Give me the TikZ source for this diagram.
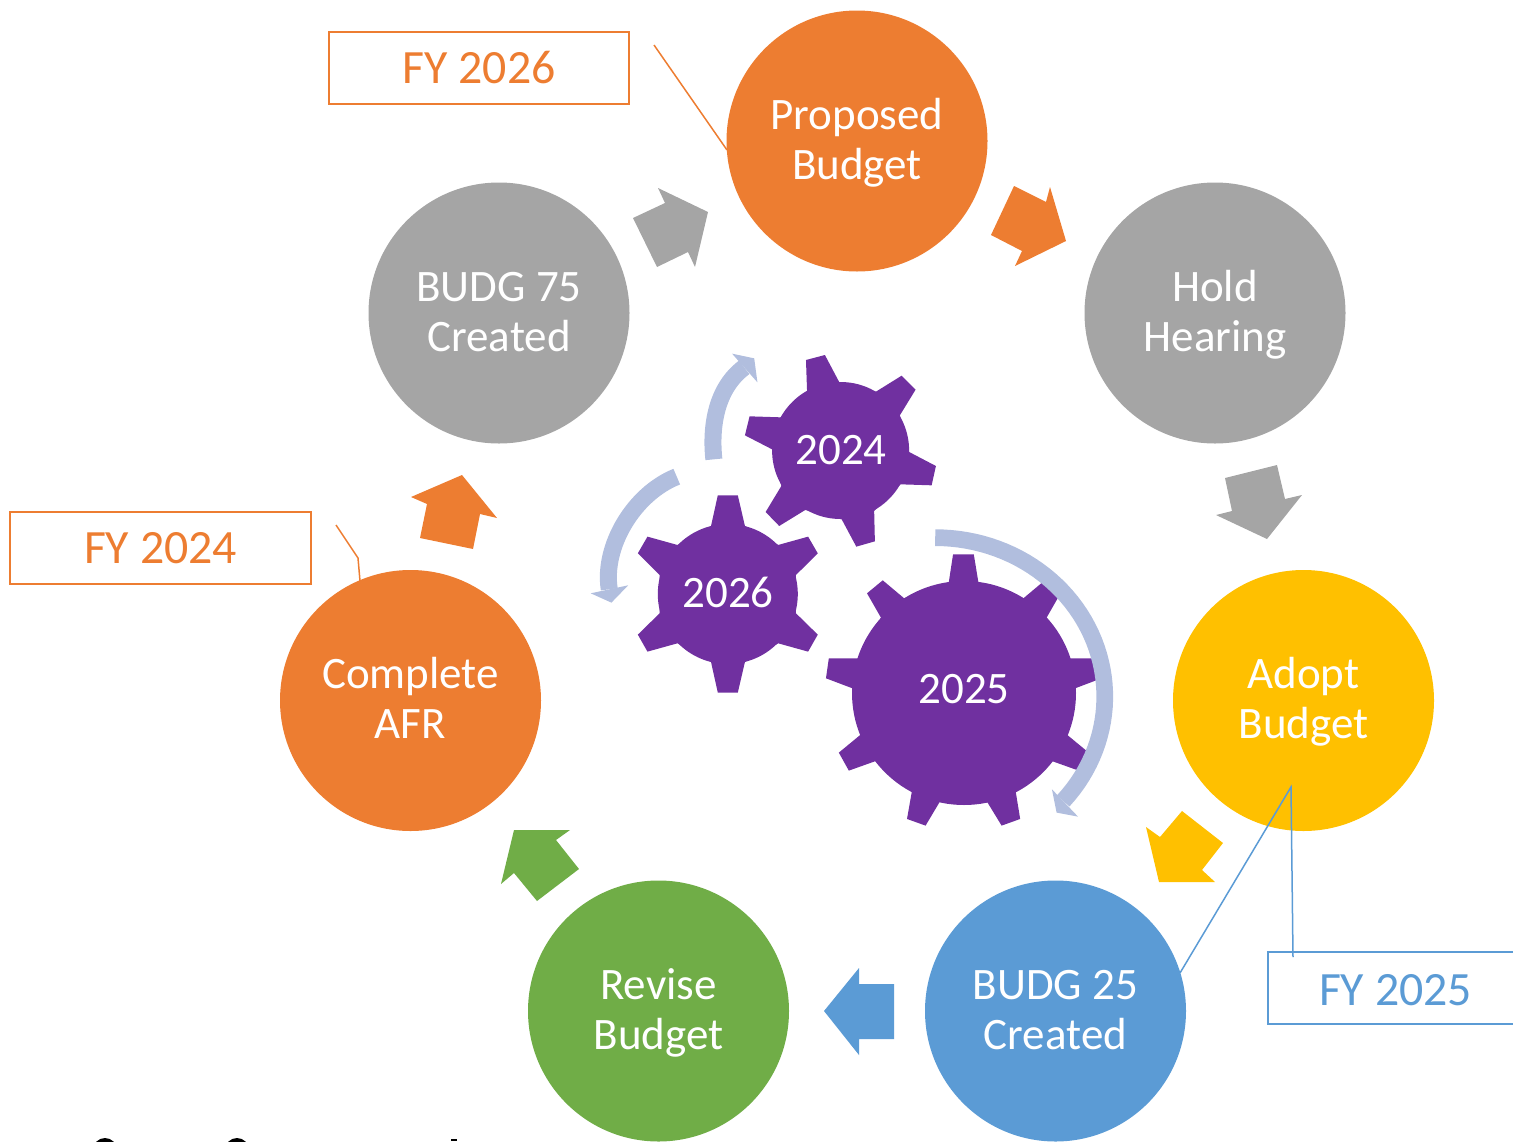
\documentclass[tikz,border=0pt]{standalone}
\usepackage{fontspec}
\setmainfont{Carlito}
\definecolor{cOrange}{HTML}{ED7D31}
\definecolor{cGray}{HTML}{A5A5A5}
\definecolor{cYellow}{HTML}{FFC000}
\definecolor{cBlue}{HTML}{5B9BD5}
\definecolor{cGreen}{HTML}{70AD47}
\definecolor{cPurple}{HTML}{7030A0}
\definecolor{cArc}{HTML}{B1BEDE}
\newcommand\firstline{\rule{0pt}{41.6pt}}
\newcommand\secondline{\rule[-14.85pt]{0pt}{34.65pt}}
\tikzset{
  stage/.style={circle,minimum size=261pt,inner sep=0pt,text=white,align=center,
    font=\fontsize{45}{50}\selectfont},
  gearlabel/.style={text=white,inner sep=0pt,font=\fontsize{45}{49}\selectfont},
  fybox/.style={draw=#1,line width=1.6pt,fill=white,text=#1,minimum height=72pt,inner sep=0pt,
    font=\fontsize{47.8}{50}\selectfont},
  callout/.style={draw=#1,line width=1.5pt},
  zoomed/.style={shift={(580,340)},xscale=.357,yscale=.3333},
}
\begin{document}
\begin{tikzpicture}[x=1pt,y=-1pt]
\useasboundingbox (0,0) rectangle (1513,1141);
\clip (0,0) rectangle (1513,1141);

% tops of the cut-off text at the lower edge
\fill[black] (105,1150) circle (12);
\fill[black] (237,1150) circle (12);
\fill[black] (451,1139) rectangle (457,1141);

% block arrows
\fill[cOrange] (1014,186)--(1046,202)--(1050,187)--(1066,241)--(1015,266)--(1022,251)--(991,235)--cycle;
\fill[cGray] (633,218)--(665,203)--(658,188)--(708,212)--(695,267)--(688,252)--(657,267)--cycle;
\fill[cGray] (1225,478)--(1277,465)--(1285,499)--(1302,495)--(1267,539)--(1216,515)--(1232,511)--cycle;
\fill[cYellow] (1182,811)--(1223,843)--(1202,870)--(1215,882)--(1159,882)--(1146,827)--(1160,837)--cycle;
\fill[cBlue] (894,984)--(859,984)--(859,968)--(824,1011)--(859,1055)--(859,1039)--(894,1039)--cycle;
\fill[cGreen] (556,840)--(579,869)--(537,901)--(514,873)--(501,884)--(514,830)--(570,830)--cycle;
\fill[cOrange] (420,538)--(427,504)--(411,497)--(462,475)--(497,518)--(480,514)--(473,549)--cycle;

% stages
\node[stage,fill=cOrange] (proposed) at (857,141) {\firstline Proposed\\\secondline Budget};
\node[stage,fill=cGray] (hearing) at (1215,313) {\firstline Hold\\\secondline Hearing};
\node[stage,fill=cGray] (budg75) at (499,313) {\firstline BUDG 75\\\secondline Created};
\node[stage,fill=cYellow] (adopt) at (1303.5,700.5) {\firstline Adopt\\\secondline Budget};
\node[stage,fill=cOrange] (afr) at (410.5,700.5) {\firstline Complete\\\secondline AFR};
\node[stage,fill=cBlue] (budg25) at (1055.5,1011) {\firstline BUDG 25\\\secondline Created};
\node[stage,fill=cGreen] (revise) at (658.5,1011) {\firstline Revise\\\secondline Budget};

% gears
\fill[cPurple] (840.6,450.5) circle (68.5);
\fill[cPurple] (727.8,594) circle (70);
\fill[cPurple] (964,693) circle (112);
\begin{scope}[zoomed]
\fill[cPurple] (633,60)--(686,45)--(726,126)--(829,155)--(901,107)--(940,149)--(896,226)--(922,336)--(997,378)--(985,436)--(898,433)--(824,513)--(826,604)--(774,620)--(733,538)--(631,510)--(558,558)--(520,516)--(564,438)--(538,328)--(462,286)--(475,229)--(562,232)--(636,153)--cycle;
\fill[cPurple] (386,466)--(442,466)--(462,558)--(555,615)--(639,590)--(666,640)--(605,705)--(605,820)--(666,884)--(639,935)--(555,910)--(462,966)--(442,1058)--(386,1058)--(367,966)--(273,910)--(189,935)--(162,884)--(223,820)--(223,705)--(162,640)--(189,590)--(273,615)--(367,558)--cycle;
\fill[cPurple] (1045,643)--(1103,643)--(1116,727)--(1242,775)--(1302,721)--(1346,760)--(1307,833)--(1372,955)--(1453,955)--(1461,1015)--(1387,1045)--(1365,1185)--(1425,1238)--(1397,1292)--(1321,1263)--(1220,1352)--(1233,1437)--(1181,1457)--(1140,1385)--(1008,1385)--(968,1457)--(916,1437)--(930,1352)--(829,1263)--(753,1292)--(725,1238)--(785,1185)--(763,1045)--(689,1015)--(697,955)--(778,955)--(843,833)--(804,760)--(848,721)--(908,775)--(1033,727)--cycle;
% circular arrows
\draw[cArc,line width=16.7pt] plot[domain=90:-41,samples=50] ({995+475*cos(\x)},{1070-477*sin(\x)});
\fill[cArc] (1322,1348)--(1335,1418)--(1395,1430)--cycle;
\draw[cArc,line width=17pt] (375,358) .. controls (365,258) and (382,144) .. (460,82);
\fill[cArc] (426,41)--(488,55)--(497,127)--cycle;
\draw[cArc,line width=17pt] (271,410) .. controls (151,461) and (63,619) .. (82,748);
\fill[cArc] (30,760)--(135,736)--(88,788)--cycle;
\end{scope}
\node[gearlabel] (g2024) at (841,450) {2024};
\node[gearlabel] (g2026) at (728,592.5) {2026};
\node[gearlabel] (g2025) at (964,689) {2025};

% year labels and their callouts
\node[fybox=cOrange,minimum width=300pt] (fy26) at (479,68) {\raisebox{-1pt}{FY 2026}};
\node[fybox=cOrange,minimum width=301pt] (fy24) at (160.5,548) {\raisebox{-1pt}{FY 2024}};
\node[fybox=cBlue,minimum width=300pt,anchor=west] (fy25) at (1267,988) {};
\node[text=cBlue,inner sep=0pt,font=\fontsize{47.8}{50}\selectfont] (fy25t) at (1395.5,990) {FY 2025};
\coordinate (c26a) at (654,45);
\coordinate (c26b) at (727,150);
\draw[callout=cOrange] (c26a) -- (c26b);
\coordinate (c24a) at (336,525);
\coordinate (c24b) at (358,558);
\coordinate (c24c) at (360,581);
\draw[callout=cOrange] (c24a) -- (c24b) -- (c24c);
\coordinate (c25a) at (1293,957);
\coordinate (c25b) at (1291,787);
\coordinate (c25c) at (1180,973);
\draw[callout=cBlue] (c25a) -- (c25b) -- (c25c);
\end{tikzpicture}
\end{document}
